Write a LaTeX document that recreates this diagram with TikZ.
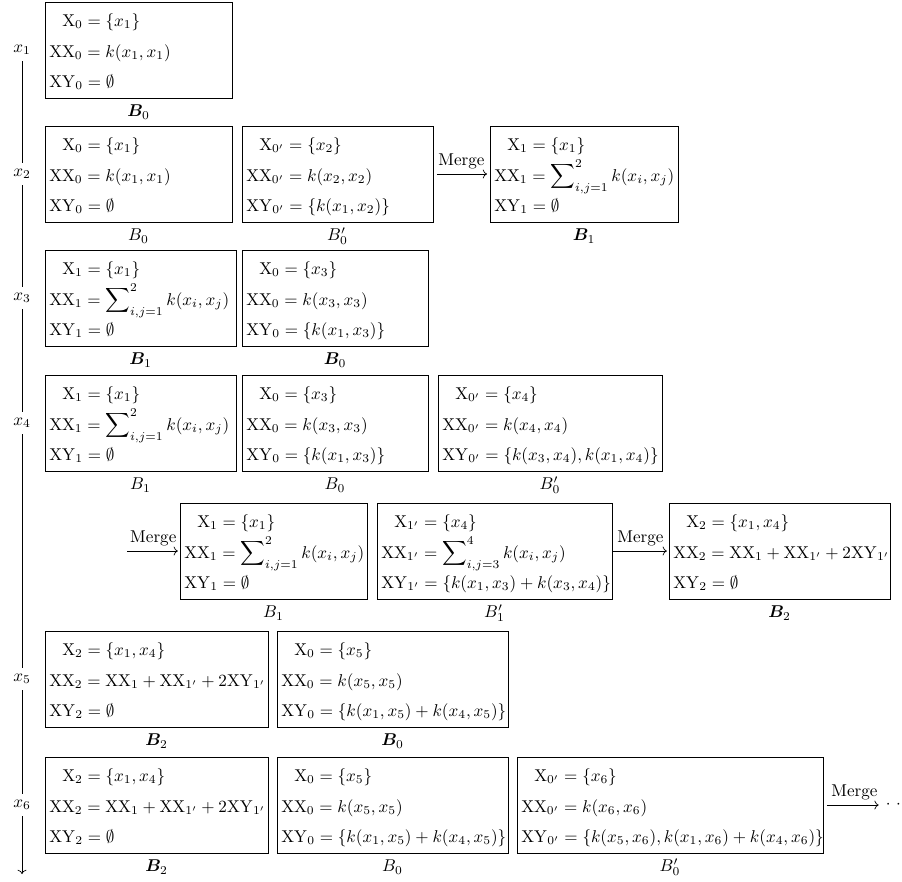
\documentclass[tikz,border=0pt]{standalone}
\usepackage{amsmath,amssymb,bm}
\usetikzlibrary{arrows.meta,fit}
\newcommand\mX{\mathrm{X}}
\newcommand\mXX{\mathrm{XX}}
\newcommand\mXY{\mathrm{XY}}
\newcommand\sumA{\displaystyle\sum\nolimits_{i,j=1}^{2}k(x_i,x_j)}
\newcommand\sumB{\displaystyle\sum\nolimits_{i,j=3}^{4}k(x_i,x_j)}
\tikzset{
  bx/.style={draw, line width=0.5pt, inner sep=0pt},
  ln/.style={inner sep=0pt, anchor=base west},
  blab/.style={inner sep=0pt},
  mg/.style={-{Computer Modern Rightarrow}, line width=0.4pt},
  mlab/.style={above, inner sep=2.6pt},
  vline/.style={line width=0.4pt},
}
% name, left, top, right, line1, line2, line3, label
\newcommand\blk[8]{%
  \node[bx, fit={(#2,#3) (#4,#3+96)}] (#1) {};
  \node[ln] (#1a) at (#2+17,#3+24) {$#5$};
  \node[ln] (#1b) at (#2+4,#3+55) {$#6$};
  \node[ln] (#1c) at (#2+4,#3+85) {$#7$};
  \node[blab] (#1l) at ({(#2+#4)/2},#3+110) {$#8$};
}
\begin{document}
\begin{tikzpicture}[x=0.585pt,y=-0.585pt]
\useasboundingbox (0,0) rectangle (902,881);
% row 1
\blk{ra}{45}{2}{232}{\mX_0=\{x_1\}}{\mXX_0=k(x_1,x_1)}{\mXY_0=\emptyset}{\bm{B}_0}
% row 2
\blk{rba}{45}{126}{232}{\mX_0=\{x_1\}}{\mXX_0=k(x_1,x_1)}{\mXY_0=\emptyset}{B_0}
\blk{rbb}{242}{126}{433}{\mX_{0'}=\{x_2\}}{\mXX_{0'}=k(x_2,x_2)}{\mXY_{0'}=\{k(x_1,x_2)\}}{B'_0}
\blk{rbc}{490}{126}{678}{\mX_1=\{x_1\}}{\mXX_1=\sumA}{\mXY_1=\emptyset}{\bm{B}_1}
% row 3
\blk{rca}{45}{250}{236}{\mX_1=\{x_1\}}{\mXX_1=\sumA}{\mXY_1=\emptyset}{\bm{B}_1}
\blk{rcb}{242}{250}{428}{\mX_0=\{x_3\}}{\mXX_0=k(x_3,x_3)}{\mXY_0=\{k(x_1,x_3)\}}{\bm{B}_0}
% row 4
\blk{rda}{45}{375}{236}{\mX_1=\{x_1\}}{\mXX_1=\sumA}{\mXY_1=\emptyset}{B_1}
\blk{rdb}{242}{375}{428}{\mX_0=\{x_3\}}{\mXX_0=k(x_3,x_3)}{\mXY_0=\{k(x_1,x_3)\}}{B_0}
\blk{rdc}{438}{375}{662}{\mX_{0'}=\{x_4\}}{\mXX_{0'}=k(x_4,x_4)}{\mXY_{0'}=\{k(x_3,x_4),k(x_1,x_4)\}}{B'_0}
% row 5
\blk{rea}{180}{503}{367}{\mX_1=\{x_1\}}{\mXX_1=\sumA}{\mXY_1=\emptyset}{B_1}
\blk{reb}{377}{503}{612}{\mX_{1'}=\{x_4\}}{\mXX_{1'}=\sumB}{\mXY_{1'}=\{k(x_1,x_3)+k(x_3,x_4)\}}{B'_1}
\blk{rec}{669}{503}{890}{\mX_2=\{x_1,x_4\}}{\mXX_2=\mXX_1+\mXX_{1'}+2\mXY_{1'}}{\mXY_2=\emptyset}{\bm{B}_2}
% row 6
\blk{rfa}{45}{631}{268}{\mX_2=\{x_1,x_4\}}{\mXX_2=\mXX_1+\mXX_{1'}+2\mXY_{1'}}{\mXY_2=\emptyset}{\bm{B}_2}
\blk{rfb}{277}{631}{508}{\mX_0=\{x_5\}}{\mXX_0=k(x_5,x_5)}{\mXY_0=\{k(x_1,x_5)+k(x_4,x_5)\}}{\bm{B}_0}
% row 7
\blk{rga}{45}{757}{268}{\mX_2=\{x_1,x_4\}}{\mXX_2=\mXX_1+\mXX_{1'}+2\mXY_{1'}}{\mXY_2=\emptyset}{\bm{B}_2}
\blk{rgb}{277}{757}{508}{\mX_0=\{x_5\}}{\mXX_0=k(x_5,x_5)}{\mXY_0=\{k(x_1,x_5)+k(x_4,x_5)\}}{B_0}
\blk{rgc}{517}{757}{823}{\mX_{0'}=\{x_6\}}{\mXX_{0'}=k(x_6,x_6)}{\mXY_{0'}=\{k(x_5,x_6),k(x_1,x_6)+k(x_4,x_6)\}}{B'_0}
% merge arrows
\draw[mg, shorten <=2pt, shorten >=1.5pt] (rbb) -- node[mlab]{Merge} (rbc);
\coordinate (mstart) at (127,551);
\draw[mg, shorten >=1pt] (mstart) -- node[mlab]{Merge} (rea);
\draw[mg, shorten <=0.5pt, shorten >=1pt] (reb) -- node[mlab]{Merge} (rec);
\node[inner sep=0pt, anchor=west] (dots) at (885.5,805) {$\cdot\hspace{3.3pt}\cdot$};
\draw[mg, shorten <=2pt, shorten >=4pt] (rgc.east) -- node[mlab]{Merge} (dots.west);
% time axis
\node (x1) at (22,50) {$x_1$};
\node (x2) at (22,174) {$x_2$};
\node (x3) at (22,298) {$x_3$};
\node (x4) at (22,423) {$x_4$};
\node (x5) at (22,679) {$x_5$};
\node (x6) at (22,805) {$x_6$};
\coordinate (vend) at (22,874);
\draw[vline] (x1) -- (x2);
\draw[vline] (x2) -- (x3);
\draw[vline] (x3) -- (x4);
\draw[vline] (x4) -- (x5);
\draw[vline] (x5) -- (x6);
\draw[vline, -{Computer Modern Rightarrow}] (x6) -- (vend);
\end{tikzpicture}
\end{document}
